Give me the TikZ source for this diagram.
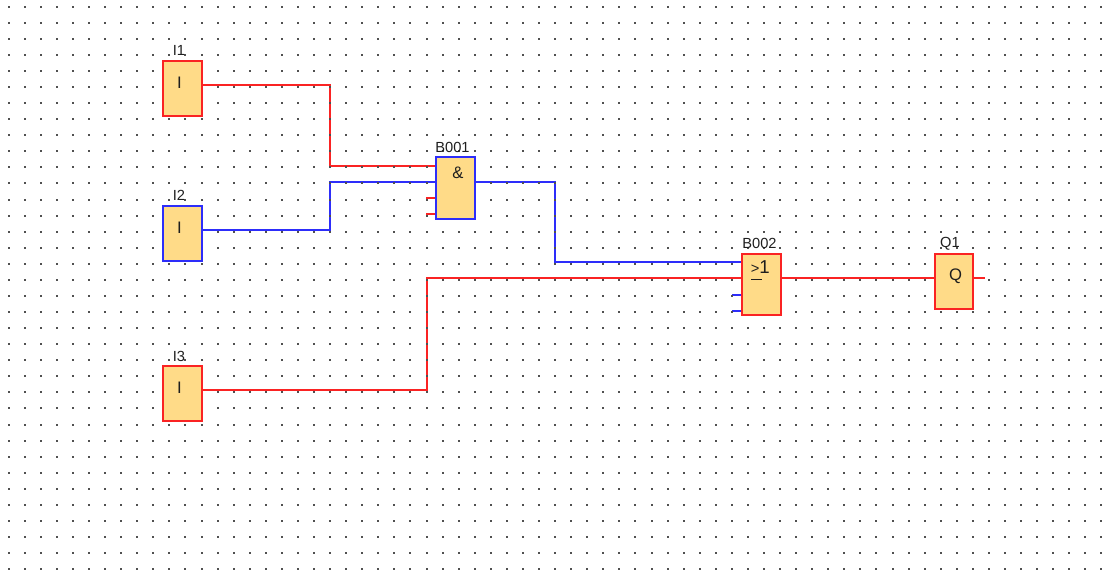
\documentclass[tikz,border=0pt]{standalone}
\usepackage{fontspec}
\setmainfont{Liberation Sans}
\pgfdeclarelayer{wires}
\pgfdeclarelayer{dots}
\pgfsetlayers{wires,dots,main}
\definecolor{sigred}{RGB}{250,35,35}
\definecolor{sigblue}{RGB}{45,45,250}
\definecolor{blockfill}{RGB}{255,219,136}
\definecolor{griddot}{RGB}{80,80,80}
\definecolor{labeltext}{RGB}{30,30,30}
\tikzset{
  x=0.75pt,y=-0.75pt,
  block/.style={draw,line width=1.1pt,fill=blockfill,anchor=north west,inner sep=0pt,outer sep=0pt},
  redblock/.style={block,draw=sigred},
  blueblock/.style={block,draw=sigblue},
  redwire/.style={draw=sigred,line width=1.2pt},
  bluewire/.style={draw=sigblue,line width=1.2pt},
  lbl/.style={font=\fontsize{11pt}{13pt}\selectfont,text=labeltext,inner sep=0pt},
  sym/.style={font=\fontsize{12.5pt}{14pt}\selectfont,text=labeltext,inner sep=0pt},
}
\begin{document}
\begin{tikzpicture}
\useasboundingbox (0,0) rectangle (1116,573);
% blocks
\node[redblock,minimum width=29.25pt,minimum height=41.25pt] (i1) at (163,61) {};
\node[blueblock,minimum width=29.25pt,minimum height=41.25pt] (i2) at (163,206) {};
\node[redblock,minimum width=29.25pt,minimum height=41.25pt] (i3) at (163,366) {};
\node[blueblock,minimum width=29.25pt,minimum height=46.5pt] (b1) at (436,157) {};
\node[redblock,minimum width=29.25pt,minimum height=45.75pt] (b2) at (742,254) {};
\node[redblock,minimum width=28.5pt,minimum height=41.25pt] (q1) at (935,254) {};
% block symbols
\node[sym] (si1) at (179.5,82.5) {I};
\node[sym] (si2) at (179.5,227.5) {I};
\node[sym] (si3) at (179.5,387.5) {I};
\node[sym] (sb1) at (458,172.5) {\&};
\node[sym,anchor=base west] (sb2) at (750.5,274) {{\fontsize{11pt}{13pt}\selectfont >}{\fontsize{14pt}{16pt}\selectfont 1}};
\node[sym] (sq1) at (955.5,276) {Q};
\draw[labeltext,line width=1pt] (751,279.5) -- (762,279.5);
% labels
\node[lbl] (li1) at (179,50) {I1};
\node[lbl] (li2) at (179,195) {I2};
\node[lbl] (li3) at (179,356) {I3};
\node[lbl] (lb1) at (452.5,147) {B001};
\node[lbl] (lb2) at (759.5,243.5) {B002};
\node[lbl] (lq1) at (950,243.5) {Q1};
% ports
\coordinate (i1o) at (202,85);
\coordinate (i2o) at (202,230);
\coordinate (i3o) at (202,390);
\coordinate (b1a) at (436,166);
\coordinate (b1b) at (436,182);
\coordinate (b1c) at (436,198);
\coordinate (b1d) at (436,214);
\coordinate (b1o) at (475,182);
\coordinate (b2a) at (742,262);
\coordinate (b2b) at (742,278);
\coordinate (b2c) at (742,295);
\coordinate (b2d) at (742,311);
\coordinate (b2o) at (781,278);
\coordinate (q1a) at (935,278);
\coordinate (q1o) at (973,278);
\coordinate (q1e) at (985,278);
\coordinate (s1) at (426,198);
\coordinate (s2) at (426,214);
\coordinate (s3) at (732,295);
\coordinate (s4) at (732,311);
\begin{pgfonlayer}{wires}
\draw[redwire] (i1o) -- ++(128,0) |- (b1a);
\draw[bluewire] (i2o) -- ++(128,0) |- (b1b);
\draw[bluewire] (b1o) -- ++(80,0) |- (b2a);
\draw[redwire] (i3o) -- ++(225,0) |- (b2b);
\draw[redwire] (b2o) -- (q1a);
\draw[redwire] (q1o) -- (q1e);
\draw[redwire] (s1) -- (b1c);
\draw[redwire] (s2) -- (b1d);
\draw[bluewire] (s3) -- (b2c);
\draw[bluewire] (s4) -- (b2d);
\end{pgfonlayer}
\begin{pgfonlayer}{dots}
\foreach \i in {0,...,69}{
  \foreach \j in {0,...,35}{
    \fill[griddot] ({8.7+16.07*\i-1},{6.7+16.07*\j-1}) rectangle ++(2,2);
  }
}
\end{pgfonlayer}
\end{tikzpicture}
\end{document}
